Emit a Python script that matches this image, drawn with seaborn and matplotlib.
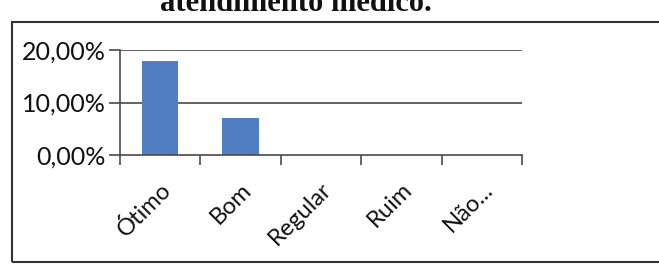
import matplotlib
matplotlib.use("Agg")
import matplotlib.pyplot as plt
import seaborn as sns
import pandas as pd
from matplotlib.patches import Rectangle
from matplotlib.ticker import FuncFormatter, FixedLocator

categories = ["Ótimo", "Bom", "Regular", "Ruim", "Não..."]
values = [17.86, 7.14, 0.0, 0.0, 0.0]
yticks = [0, 10, 20]

sns.set_theme(style="white")
plt.rcParams["font.family"] = ["Lato", "DejaVu Sans"]

fig = plt.figure(figsize=(6.59, 2.79), dpi=100)
ax = fig.add_axes([0.182, 0.444, 0.61, 0.377])

df = pd.DataFrame({"cat": categories, "val": values})
sns.barplot(data=df, x="cat", y="val", color="#4F7FC2", width=0.45,
            saturation=1, linewidth=0, ax=ax, zorder=3)

ax.set_xlim(-0.5, len(categories) - 0.5)
ax.set_ylim(0, 20)
ax.set_yticks(yticks)
ax.yaxis.set_major_formatter(FuncFormatter(lambda v, p: f"{v:.2f}".replace(".", ",") + "%"))
for y in yticks[1:]:
    ax.axhline(y, color="#4a4a4a", lw=1.2, zorder=1)

ax.set_xlabel("")
ax.set_ylabel("")
for s in ["top", "right"]:
    ax.spines[s].set_visible(False)
for s in ["left", "bottom"]:
    ax.spines[s].set_color("#4a4a4a")
    ax.spines[s].set_linewidth(1.2)
    ax.spines[s].set_zorder(4)

ax.tick_params(axis="y", which="major", direction="out", length=8, width=1.2,
               color="#4a4a4a", labelsize=18, labelcolor="#111111", pad=2, left=True)
ax.tick_params(axis="x", which="major", length=0, labelsize=17, labelcolor="#111111", pad=17)
ax.xaxis.set_minor_locator(FixedLocator([i - 0.5 for i in range(len(categories) + 1)]))
ax.tick_params(axis="x", which="minor", direction="out", length=7, width=1.2,
               color="#4a4a4a", bottom=True)
for lab in ax.get_xticklabels():
    lab.set_rotation(45)
    lab.set_ha("right")
    lab.set_rotation_mode("anchor")

# chart border
fig.patches.append(Rectangle((12 / 659, 1 - 262 / 279), 1.0, (262 - 22) / 279,
                             transform=fig.transFigure, fill=False,
                             edgecolor="#333333", lw=1.5))

# partially visible title at top (cut by the page edge, as in the scan)
fig.text(432 / 659, 1 - 11 / 279, "atendimento médico.", ha="right", va="baseline",
         fontsize=22, fontweight="bold", family=["Liberation Serif", "DejaVu Serif"],
         color="#111111")

fig.savefig("out.png", dpi=100)
